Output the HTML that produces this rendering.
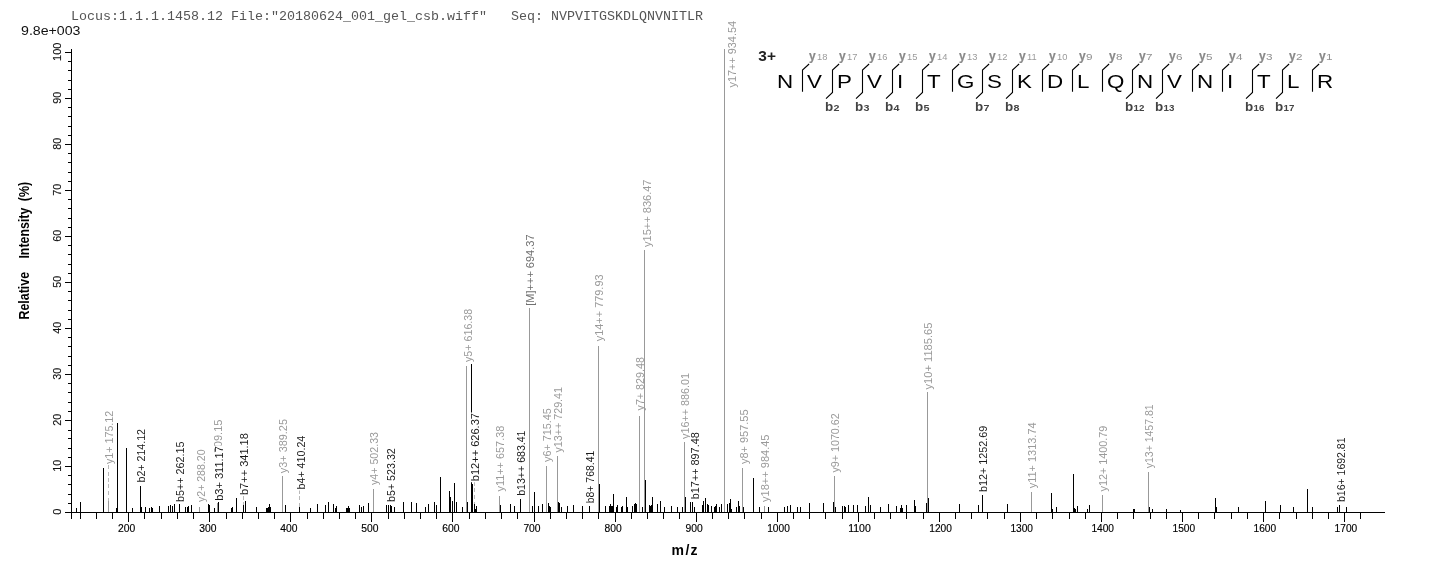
<!DOCTYPE html>
<html><head><meta charset="utf-8"><title>Spectrum</title>
<style>html,body{margin:0;padding:0;background:#fff;}svg{display:block;opacity:0.999;will-change:transform;}text{font-family:"Liberation Sans",sans-serif;}</style>
</head><body>
<svg width="1436" height="572" viewBox="0 0 1436 572">
<rect x="0" y="0" width="1436" height="572" fill="#fff"/>
<text x="71" y="20" font-size="12.2" style="font-family:'Liberation Mono',monospace;white-space:pre" xml:space="preserve" fill="#555" textLength="632" lengthAdjust="spacingAndGlyphs">Locus:1.1.1.1458.12 File:&quot;20180624_001_gel_csb.wiff&quot;   Seq: NVPVITGSKDLQNVNITLR</text>
<text x="21" y="34.6" font-size="12" fill="#111" textLength="59.5" lengthAdjust="spacingAndGlyphs">9.8e+003</text>
<g shape-rendering="crispEdges">
<rect x="71" y="49" width="1" height="470" fill="#000"/>
<rect x="65" y="512" width="1320" height="1" fill="#000"/>
<rect x="65" y="512" width="6" height="1" fill="#000"/>
<rect x="68" y="503" width="3" height="1" fill="#000"/>
<rect x="68" y="494" width="3" height="1" fill="#000"/>
<rect x="68" y="484" width="3" height="1" fill="#000"/>
<rect x="68" y="475" width="3" height="1" fill="#000"/>
<rect x="65" y="466" width="6" height="1" fill="#000"/>
<rect x="68" y="457" width="3" height="1" fill="#000"/>
<rect x="68" y="448" width="3" height="1" fill="#000"/>
<rect x="68" y="438" width="3" height="1" fill="#000"/>
<rect x="68" y="430" width="3" height="1" fill="#000"/>
<rect x="65" y="420" width="6" height="1" fill="#000"/>
<rect x="68" y="411" width="3" height="1" fill="#000"/>
<rect x="68" y="402" width="3" height="1" fill="#000"/>
<rect x="68" y="392" width="3" height="1" fill="#000"/>
<rect x="68" y="383" width="3" height="1" fill="#000"/>
<rect x="65" y="374" width="6" height="1" fill="#000"/>
<rect x="68" y="365" width="3" height="1" fill="#000"/>
<rect x="68" y="356" width="3" height="1" fill="#000"/>
<rect x="68" y="346" width="3" height="1" fill="#000"/>
<rect x="68" y="337" width="3" height="1" fill="#000"/>
<rect x="65" y="328" width="6" height="1" fill="#000"/>
<rect x="68" y="319" width="3" height="1" fill="#000"/>
<rect x="68" y="310" width="3" height="1" fill="#000"/>
<rect x="68" y="300" width="3" height="1" fill="#000"/>
<rect x="68" y="291" width="3" height="1" fill="#000"/>
<rect x="65" y="282" width="6" height="1" fill="#000"/>
<rect x="68" y="273" width="3" height="1" fill="#000"/>
<rect x="68" y="264" width="3" height="1" fill="#000"/>
<rect x="68" y="254" width="3" height="1" fill="#000"/>
<rect x="68" y="245" width="3" height="1" fill="#000"/>
<rect x="65" y="236" width="6" height="1" fill="#000"/>
<rect x="68" y="227" width="3" height="1" fill="#000"/>
<rect x="68" y="218" width="3" height="1" fill="#000"/>
<rect x="68" y="208" width="3" height="1" fill="#000"/>
<rect x="68" y="199" width="3" height="1" fill="#000"/>
<rect x="65" y="190" width="6" height="1" fill="#000"/>
<rect x="68" y="181" width="3" height="1" fill="#000"/>
<rect x="68" y="172" width="3" height="1" fill="#000"/>
<rect x="68" y="162" width="3" height="1" fill="#000"/>
<rect x="68" y="153" width="3" height="1" fill="#000"/>
<rect x="65" y="144" width="6" height="1" fill="#000"/>
<rect x="68" y="135" width="3" height="1" fill="#000"/>
<rect x="68" y="126" width="3" height="1" fill="#000"/>
<rect x="68" y="116" width="3" height="1" fill="#000"/>
<rect x="68" y="107" width="3" height="1" fill="#000"/>
<rect x="65" y="98" width="6" height="1" fill="#000"/>
<rect x="68" y="89" width="3" height="1" fill="#000"/>
<rect x="68" y="80" width="3" height="1" fill="#000"/>
<rect x="68" y="70" width="3" height="1" fill="#000"/>
<rect x="68" y="61" width="3" height="1" fill="#000"/>
<rect x="65" y="52" width="6" height="1" fill="#000"/>
<rect x="80" y="512" width="1" height="7" fill="#000"/>
<rect x="96" y="512" width="1" height="7" fill="#000"/>
<rect x="112" y="512" width="1" height="7" fill="#000"/>
<rect x="128" y="512" width="1" height="10" fill="#000"/>
<rect x="144" y="512" width="1" height="7" fill="#000"/>
<rect x="161" y="512" width="1" height="7" fill="#000"/>
<rect x="177" y="512" width="1" height="7" fill="#000"/>
<rect x="193" y="512" width="1" height="7" fill="#000"/>
<rect x="209" y="512" width="1" height="10" fill="#000"/>
<rect x="226" y="512" width="1" height="7" fill="#000"/>
<rect x="242" y="512" width="1" height="7" fill="#000"/>
<rect x="258" y="512" width="1" height="7" fill="#000"/>
<rect x="274" y="512" width="1" height="7" fill="#000"/>
<rect x="290" y="512" width="1" height="10" fill="#000"/>
<rect x="307" y="512" width="1" height="7" fill="#000"/>
<rect x="323" y="512" width="1" height="7" fill="#000"/>
<rect x="339" y="512" width="1" height="7" fill="#000"/>
<rect x="355" y="512" width="1" height="7" fill="#000"/>
<rect x="371" y="512" width="1" height="10" fill="#000"/>
<rect x="388" y="512" width="1" height="7" fill="#000"/>
<rect x="404" y="512" width="1" height="7" fill="#000"/>
<rect x="420" y="512" width="1" height="7" fill="#000"/>
<rect x="436" y="512" width="1" height="7" fill="#000"/>
<rect x="452" y="512" width="1" height="10" fill="#000"/>
<rect x="469" y="512" width="1" height="7" fill="#000"/>
<rect x="485" y="512" width="1" height="7" fill="#000"/>
<rect x="501" y="512" width="1" height="7" fill="#000"/>
<rect x="517" y="512" width="1" height="7" fill="#000"/>
<rect x="534" y="512" width="1" height="10" fill="#000"/>
<rect x="550" y="512" width="1" height="7" fill="#000"/>
<rect x="566" y="512" width="1" height="7" fill="#000"/>
<rect x="582" y="512" width="1" height="7" fill="#000"/>
<rect x="598" y="512" width="1" height="7" fill="#000"/>
<rect x="615" y="512" width="1" height="10" fill="#000"/>
<rect x="631" y="512" width="1" height="7" fill="#000"/>
<rect x="647" y="512" width="1" height="7" fill="#000"/>
<rect x="663" y="512" width="1" height="7" fill="#000"/>
<rect x="679" y="512" width="1" height="7" fill="#000"/>
<rect x="696" y="512" width="1" height="10" fill="#000"/>
<rect x="712" y="512" width="1" height="7" fill="#000"/>
<rect x="728" y="512" width="1" height="7" fill="#000"/>
<rect x="744" y="512" width="1" height="7" fill="#000"/>
<rect x="761" y="512" width="1" height="7" fill="#000"/>
<rect x="777" y="512" width="1" height="10" fill="#000"/>
<rect x="793" y="512" width="1" height="7" fill="#000"/>
<rect x="809" y="512" width="1" height="7" fill="#000"/>
<rect x="825" y="512" width="1" height="7" fill="#000"/>
<rect x="842" y="512" width="1" height="7" fill="#000"/>
<rect x="858" y="512" width="1" height="10" fill="#000"/>
<rect x="874" y="512" width="1" height="7" fill="#000"/>
<rect x="890" y="512" width="1" height="7" fill="#000"/>
<rect x="906" y="512" width="1" height="7" fill="#000"/>
<rect x="923" y="512" width="1" height="7" fill="#000"/>
<rect x="939" y="512" width="1" height="10" fill="#000"/>
<rect x="955" y="512" width="1" height="7" fill="#000"/>
<rect x="971" y="512" width="1" height="7" fill="#000"/>
<rect x="987" y="512" width="1" height="7" fill="#000"/>
<rect x="1004" y="512" width="1" height="7" fill="#000"/>
<rect x="1020" y="512" width="1" height="10" fill="#000"/>
<rect x="1036" y="512" width="1" height="7" fill="#000"/>
<rect x="1052" y="512" width="1" height="7" fill="#000"/>
<rect x="1069" y="512" width="1" height="7" fill="#000"/>
<rect x="1085" y="512" width="1" height="7" fill="#000"/>
<rect x="1101" y="512" width="1" height="10" fill="#000"/>
<rect x="1117" y="512" width="1" height="7" fill="#000"/>
<rect x="1133" y="512" width="1" height="7" fill="#000"/>
<rect x="1150" y="512" width="1" height="7" fill="#000"/>
<rect x="1166" y="512" width="1" height="7" fill="#000"/>
<rect x="1182" y="512" width="1" height="10" fill="#000"/>
<rect x="1198" y="512" width="1" height="7" fill="#000"/>
<rect x="1214" y="512" width="1" height="7" fill="#000"/>
<rect x="1231" y="512" width="1" height="7" fill="#000"/>
<rect x="1247" y="512" width="1" height="7" fill="#000"/>
<rect x="1263" y="512" width="1" height="10" fill="#000"/>
<rect x="1279" y="512" width="1" height="7" fill="#000"/>
<rect x="1296" y="512" width="1" height="7" fill="#000"/>
<rect x="1312" y="512" width="1" height="7" fill="#000"/>
<rect x="1328" y="512" width="1" height="7" fill="#000"/>
<rect x="1344" y="512" width="1" height="10" fill="#000"/>
<rect x="1360" y="512" width="1" height="7" fill="#000"/>
<rect x="76" y="508" width="1" height="4" fill="#000"/>
<rect x="80" y="502" width="1" height="10" fill="#000"/>
<rect x="103" y="468" width="1" height="44" fill="#000"/>
<rect x="108" y="500" width="1" height="12" fill="#999999"/>
<rect x="116" y="508" width="1" height="4" fill="#000"/>
<rect x="117" y="423" width="1" height="89" fill="#000"/>
<rect x="126" y="448" width="1" height="64" fill="#000"/>
<rect x="132" y="508" width="1" height="4" fill="#000"/>
<rect x="140" y="486" width="1" height="26" fill="#000"/>
<rect x="141" y="507" width="1" height="5" fill="#000"/>
<rect x="145" y="507" width="1" height="5" fill="#000"/>
<rect x="149" y="508" width="1" height="4" fill="#000"/>
<rect x="151" y="507" width="1" height="5" fill="#000"/>
<rect x="152" y="508" width="1" height="4" fill="#000"/>
<rect x="159" y="506" width="1" height="6" fill="#000"/>
<rect x="168" y="506" width="1" height="6" fill="#000"/>
<rect x="170" y="505" width="1" height="7" fill="#000"/>
<rect x="172" y="506" width="1" height="6" fill="#000"/>
<rect x="174" y="504" width="1" height="8" fill="#000"/>
<rect x="179" y="504" width="1" height="8" fill="#000"/>
<rect x="185" y="507" width="1" height="5" fill="#000"/>
<rect x="187" y="507" width="1" height="5" fill="#000"/>
<rect x="188" y="506" width="1" height="6" fill="#000"/>
<rect x="191" y="505" width="1" height="7" fill="#000"/>
<rect x="199" y="507" width="1" height="5" fill="#999999"/>
<rect x="208" y="504" width="1" height="8" fill="#000"/>
<rect x="209" y="505" width="1" height="7" fill="#000"/>
<rect x="214" y="508" width="1" height="4" fill="#000"/>
<rect x="217" y="503" width="1" height="9" fill="#999999"/>
<rect x="218" y="502" width="1" height="10" fill="#000"/>
<rect x="231" y="508" width="1" height="4" fill="#000"/>
<rect x="232" y="507" width="1" height="5" fill="#000"/>
<rect x="236" y="498" width="1" height="14" fill="#000"/>
<rect x="243" y="505" width="1" height="7" fill="#000"/>
<rect x="245" y="501" width="1" height="11" fill="#000"/>
<rect x="256" y="507" width="1" height="5" fill="#000"/>
<rect x="266" y="508" width="1" height="4" fill="#000"/>
<rect x="267" y="508" width="1" height="4" fill="#000"/>
<rect x="268" y="507" width="1" height="5" fill="#000"/>
<rect x="269" y="504" width="1" height="8" fill="#000"/>
<rect x="270" y="507" width="1" height="5" fill="#000"/>
<rect x="282" y="476" width="1" height="36" fill="#999999"/>
<rect x="285" y="505" width="1" height="7" fill="#000"/>
<rect x="299" y="507" width="1" height="5" fill="#000"/>
<rect x="310" y="508" width="1" height="4" fill="#000"/>
<rect x="317" y="504" width="1" height="8" fill="#000"/>
<rect x="325" y="505" width="1" height="7" fill="#000"/>
<rect x="328" y="502" width="1" height="10" fill="#000"/>
<rect x="333" y="504" width="1" height="8" fill="#000"/>
<rect x="335" y="508" width="1" height="4" fill="#000"/>
<rect x="336" y="506" width="1" height="6" fill="#000"/>
<rect x="346" y="508" width="1" height="4" fill="#000"/>
<rect x="347" y="508" width="1" height="4" fill="#000"/>
<rect x="348" y="506" width="1" height="6" fill="#000"/>
<rect x="349" y="508" width="1" height="4" fill="#000"/>
<rect x="359" y="505" width="1" height="7" fill="#000"/>
<rect x="361" y="507" width="1" height="5" fill="#000"/>
<rect x="363" y="506" width="1" height="6" fill="#000"/>
<rect x="368" y="503" width="1" height="9" fill="#000"/>
<rect x="373" y="489" width="1" height="23" fill="#999999"/>
<rect x="386" y="505" width="1" height="7" fill="#000"/>
<rect x="388" y="505" width="1" height="7" fill="#000"/>
<rect x="390" y="505" width="1" height="7" fill="#000"/>
<rect x="391" y="506" width="1" height="6" fill="#000"/>
<rect x="394" y="507" width="1" height="5" fill="#000"/>
<rect x="403" y="502" width="1" height="10" fill="#000"/>
<rect x="411" y="502" width="1" height="10" fill="#000"/>
<rect x="416" y="503" width="1" height="9" fill="#000"/>
<rect x="425" y="507" width="1" height="5" fill="#000"/>
<rect x="428" y="504" width="1" height="8" fill="#000"/>
<rect x="434" y="502" width="1" height="10" fill="#000"/>
<rect x="436" y="505" width="1" height="7" fill="#000"/>
<rect x="440" y="477" width="1" height="35" fill="#000"/>
<rect x="449" y="491" width="1" height="21" fill="#000"/>
<rect x="450" y="497" width="1" height="15" fill="#000"/>
<rect x="452" y="501" width="1" height="11" fill="#000"/>
<rect x="454" y="483" width="1" height="29" fill="#000"/>
<rect x="456" y="502" width="1" height="10" fill="#000"/>
<rect x="462" y="507" width="1" height="5" fill="#000"/>
<rect x="466" y="366" width="1" height="146" fill="#999999"/>
<rect x="467" y="502" width="1" height="10" fill="#000"/>
<rect x="471" y="482" width="1" height="30" fill="#000"/>
<rect x="472" y="484" width="1" height="28" fill="#000"/>
<rect x="474" y="503" width="1" height="9" fill="#000"/>
<rect x="475" y="509" width="1" height="3" fill="#000"/>
<rect x="476" y="506" width="1" height="6" fill="#000"/>
<rect x="499" y="496" width="1" height="16" fill="#999999"/>
<rect x="500" y="505" width="1" height="7" fill="#000"/>
<rect x="510" y="504" width="1" height="8" fill="#000"/>
<rect x="514" y="506" width="1" height="6" fill="#000"/>
<rect x="520" y="499" width="1" height="13" fill="#000"/>
<rect x="529" y="308" width="1" height="204" fill="#999999"/>
<rect x="532" y="506" width="1" height="6" fill="#000"/>
<rect x="534" y="492" width="1" height="20" fill="#000"/>
<rect x="538" y="506" width="1" height="6" fill="#000"/>
<rect x="542" y="504" width="1" height="8" fill="#000"/>
<rect x="546" y="466" width="1" height="46" fill="#999999"/>
<rect x="548" y="503" width="1" height="9" fill="#000"/>
<rect x="549" y="506" width="1" height="6" fill="#000"/>
<rect x="550" y="507" width="1" height="5" fill="#000"/>
<rect x="557" y="456" width="1" height="56" fill="#999999"/>
<rect x="558" y="502" width="1" height="10" fill="#000"/>
<rect x="559" y="503" width="1" height="9" fill="#000"/>
<rect x="561" y="507" width="1" height="5" fill="#000"/>
<rect x="567" y="506" width="1" height="6" fill="#000"/>
<rect x="573" y="505" width="1" height="7" fill="#000"/>
<rect x="582" y="506" width="1" height="6" fill="#000"/>
<rect x="589" y="506" width="1" height="6" fill="#000"/>
<rect x="598" y="346" width="1" height="166" fill="#999999"/>
<rect x="599" y="484" width="1" height="28" fill="#000"/>
<rect x="605" y="506" width="1" height="6" fill="#000"/>
<rect x="609" y="506" width="1" height="6" fill="#000"/>
<rect x="610" y="504" width="1" height="8" fill="#000"/>
<rect x="611" y="506" width="1" height="6" fill="#000"/>
<rect x="612" y="506" width="1" height="6" fill="#000"/>
<rect x="613" y="494" width="1" height="18" fill="#000"/>
<rect x="616" y="507" width="1" height="5" fill="#000"/>
<rect x="617" y="505" width="1" height="7" fill="#000"/>
<rect x="621" y="507" width="1" height="5" fill="#000"/>
<rect x="622" y="506" width="1" height="6" fill="#000"/>
<rect x="626" y="497" width="1" height="15" fill="#000"/>
<rect x="627" y="507" width="1" height="5" fill="#000"/>
<rect x="632" y="506" width="1" height="6" fill="#000"/>
<rect x="634" y="504" width="1" height="8" fill="#000"/>
<rect x="635" y="503" width="1" height="9" fill="#000"/>
<rect x="636" y="504" width="1" height="8" fill="#000"/>
<rect x="639" y="416" width="1" height="96" fill="#999999"/>
<rect x="642" y="507" width="1" height="5" fill="#000"/>
<rect x="644" y="250" width="1" height="262" fill="#999999"/>
<rect x="645" y="480" width="1" height="32" fill="#000"/>
<rect x="649" y="505" width="1" height="7" fill="#000"/>
<rect x="650" y="506" width="1" height="6" fill="#000"/>
<rect x="651" y="505" width="1" height="7" fill="#000"/>
<rect x="652" y="497" width="1" height="15" fill="#000"/>
<rect x="657" y="504" width="1" height="8" fill="#000"/>
<rect x="660" y="501" width="1" height="11" fill="#000"/>
<rect x="664" y="507" width="1" height="5" fill="#000"/>
<rect x="671" y="506" width="1" height="6" fill="#000"/>
<rect x="677" y="507" width="1" height="5" fill="#000"/>
<rect x="682" y="507" width="1" height="5" fill="#000"/>
<rect x="684" y="442" width="1" height="70" fill="#999999"/>
<rect x="685" y="497" width="1" height="15" fill="#000"/>
<rect x="690" y="502" width="1" height="10" fill="#000"/>
<rect x="692" y="502" width="1" height="10" fill="#000"/>
<rect x="694" y="507" width="1" height="5" fill="#000"/>
<rect x="702" y="505" width="1" height="7" fill="#000"/>
<rect x="703" y="501" width="1" height="11" fill="#000"/>
<rect x="705" y="498" width="1" height="14" fill="#000"/>
<rect x="707" y="504" width="1" height="8" fill="#000"/>
<rect x="708" y="505" width="1" height="7" fill="#000"/>
<rect x="711" y="506" width="1" height="6" fill="#000"/>
<rect x="714" y="507" width="1" height="5" fill="#000"/>
<rect x="715" y="506" width="1" height="6" fill="#000"/>
<rect x="716" y="504" width="1" height="8" fill="#000"/>
<rect x="719" y="507" width="1" height="5" fill="#000"/>
<rect x="721" y="504" width="1" height="8" fill="#000"/>
<rect x="724" y="49" width="1" height="463" fill="#999999"/>
<rect x="727" y="504" width="1" height="8" fill="#000"/>
<rect x="729" y="503" width="1" height="9" fill="#000"/>
<rect x="730" y="499" width="1" height="13" fill="#000"/>
<rect x="731" y="509" width="1" height="3" fill="#000"/>
<rect x="736" y="507" width="1" height="5" fill="#000"/>
<rect x="738" y="501" width="1" height="11" fill="#000"/>
<rect x="739" y="506" width="1" height="6" fill="#000"/>
<rect x="742" y="468" width="1" height="44" fill="#999999"/>
<rect x="743" y="507" width="1" height="5" fill="#000"/>
<rect x="753" y="478" width="1" height="34" fill="#000"/>
<rect x="759" y="507" width="1" height="5" fill="#000"/>
<rect x="764" y="506" width="1" height="6" fill="#999999"/>
<rect x="768" y="507" width="1" height="5" fill="#000"/>
<rect x="784" y="507" width="1" height="5" fill="#000"/>
<rect x="787" y="506" width="1" height="6" fill="#000"/>
<rect x="790" y="505" width="1" height="7" fill="#000"/>
<rect x="797" y="507" width="1" height="5" fill="#000"/>
<rect x="800" y="507" width="1" height="5" fill="#000"/>
<rect x="809" y="503" width="1" height="9" fill="#000"/>
<rect x="823" y="503" width="1" height="9" fill="#000"/>
<rect x="833" y="502" width="1" height="10" fill="#000"/>
<rect x="834" y="476" width="1" height="36" fill="#999999"/>
<rect x="835" y="507" width="1" height="5" fill="#000"/>
<rect x="842" y="506" width="1" height="6" fill="#000"/>
<rect x="844" y="506" width="1" height="6" fill="#000"/>
<rect x="845" y="507" width="1" height="5" fill="#000"/>
<rect x="848" y="505" width="1" height="7" fill="#000"/>
<rect x="853" y="505" width="1" height="7" fill="#000"/>
<rect x="857" y="505" width="1" height="7" fill="#000"/>
<rect x="865" y="506" width="1" height="6" fill="#000"/>
<rect x="868" y="497" width="1" height="15" fill="#000"/>
<rect x="870" y="505" width="1" height="7" fill="#000"/>
<rect x="880" y="507" width="1" height="5" fill="#000"/>
<rect x="888" y="504" width="1" height="8" fill="#000"/>
<rect x="896" y="506" width="1" height="6" fill="#000"/>
<rect x="900" y="508" width="1" height="4" fill="#000"/>
<rect x="901" y="505" width="1" height="7" fill="#000"/>
<rect x="902" y="508" width="1" height="4" fill="#000"/>
<rect x="906" y="505" width="1" height="7" fill="#000"/>
<rect x="914" y="500" width="1" height="12" fill="#000"/>
<rect x="915" y="506" width="1" height="6" fill="#000"/>
<rect x="926" y="503" width="1" height="9" fill="#000"/>
<rect x="927" y="392" width="1" height="120" fill="#999999"/>
<rect x="928" y="498" width="1" height="14" fill="#000"/>
<rect x="959" y="504" width="1" height="8" fill="#000"/>
<rect x="978" y="505" width="1" height="7" fill="#000"/>
<rect x="982" y="495" width="1" height="17" fill="#000"/>
<rect x="1007" y="504" width="1" height="8" fill="#000"/>
<rect x="1031" y="492" width="1" height="20" fill="#999999"/>
<rect x="1051" y="493" width="1" height="19" fill="#000"/>
<rect x="1052" y="509" width="1" height="3" fill="#000"/>
<rect x="1056" y="507" width="1" height="5" fill="#000"/>
<rect x="1073" y="474" width="1" height="38" fill="#000"/>
<rect x="1074" y="508" width="1" height="4" fill="#000"/>
<rect x="1075" y="509" width="1" height="3" fill="#000"/>
<rect x="1077" y="506" width="1" height="6" fill="#000"/>
<rect x="1087" y="509" width="1" height="3" fill="#000"/>
<rect x="1089" y="505" width="1" height="7" fill="#000"/>
<rect x="1102" y="495" width="1" height="17" fill="#999999"/>
<rect x="1133" y="509" width="1" height="3" fill="#000"/>
<rect x="1134" y="509" width="1" height="3" fill="#000"/>
<rect x="1148" y="472" width="1" height="40" fill="#999999"/>
<rect x="1149" y="507" width="1" height="5" fill="#000"/>
<rect x="1152" y="509" width="1" height="3" fill="#000"/>
<rect x="1166" y="509" width="1" height="3" fill="#000"/>
<rect x="1180" y="510" width="1" height="2" fill="#000"/>
<rect x="1215" y="498" width="1" height="14" fill="#000"/>
<rect x="1216" y="507" width="1" height="5" fill="#000"/>
<rect x="1238" y="507" width="1" height="5" fill="#000"/>
<rect x="1265" y="501" width="1" height="11" fill="#000"/>
<rect x="1280" y="505" width="1" height="7" fill="#000"/>
<rect x="1293" y="507" width="1" height="5" fill="#000"/>
<rect x="1307" y="489" width="1" height="23" fill="#000"/>
<rect x="1312" y="507" width="1" height="5" fill="#000"/>
<rect x="1337" y="507" width="1" height="5" fill="#000"/>
<rect x="1339" y="505" width="1" height="7" fill="#000"/>
<rect x="1346" y="507" width="1" height="5" fill="#000"/>
<rect x="471" y="364" width="1" height="118" fill="#000"/>
<rect x="108" y="465" width="1" height="4" fill="#b8b8b8"/>
<rect x="108" y="472" width="1" height="4" fill="#b8b8b8"/>
<rect x="108" y="478" width="1" height="4" fill="#b8b8b8"/>
<rect x="108" y="484" width="1" height="4" fill="#b8b8b8"/>
<rect x="108" y="491" width="1" height="4" fill="#b8b8b8"/>
<rect x="108" y="498" width="1" height="2.5" fill="#b8b8b8"/>
<rect x="243" y="496" width="1" height="4" fill="#b8b8b8"/>
<rect x="243" y="502" width="1" height="2.5" fill="#b8b8b8"/>
<rect x="299" y="490" width="1" height="4" fill="#b8b8b8"/>
<rect x="299" y="496" width="1" height="4" fill="#b8b8b8"/>
<rect x="299" y="503" width="1" height="4" fill="#b8b8b8"/>
<rect x="474" y="482" width="1" height="4" fill="#b8b8b8"/>
<rect x="474" y="488" width="1" height="4" fill="#b8b8b8"/>
<rect x="474" y="495" width="1" height="4" fill="#b8b8b8"/>
<rect x="474" y="502" width="1" height="1.5" fill="#b8b8b8"/>
</g>
<text x="118.1" y="532" font-size="10" fill="#000" stroke="#000" stroke-width="0.15" textLength="17.2" lengthAdjust="spacingAndGlyphs">200</text>
<text x="199.2" y="532" font-size="10" fill="#000" stroke="#000" stroke-width="0.15" textLength="17.2" lengthAdjust="spacingAndGlyphs">300</text>
<text x="280.2" y="532" font-size="10" fill="#000" stroke="#000" stroke-width="0.15" textLength="17.2" lengthAdjust="spacingAndGlyphs">400</text>
<text x="361.3" y="532" font-size="10" fill="#000" stroke="#000" stroke-width="0.15" textLength="17.2" lengthAdjust="spacingAndGlyphs">500</text>
<text x="442.3" y="532" font-size="10" fill="#000" stroke="#000" stroke-width="0.15" textLength="17.2" lengthAdjust="spacingAndGlyphs">600</text>
<text x="523.4" y="532" font-size="10" fill="#000" stroke="#000" stroke-width="0.15" textLength="17.2" lengthAdjust="spacingAndGlyphs">700</text>
<text x="604.5" y="532" font-size="10" fill="#000" stroke="#000" stroke-width="0.15" textLength="17.2" lengthAdjust="spacingAndGlyphs">800</text>
<text x="685.5" y="532" font-size="10" fill="#000" stroke="#000" stroke-width="0.15" textLength="17.2" lengthAdjust="spacingAndGlyphs">900</text>
<text x="767.2" y="532" font-size="10" fill="#000" stroke="#000" stroke-width="0.15" textLength="22.6" lengthAdjust="spacingAndGlyphs">1000</text>
<text x="848.2" y="532" font-size="10" fill="#000" stroke="#000" stroke-width="0.15" textLength="22.6" lengthAdjust="spacingAndGlyphs">1100</text>
<text x="929.3" y="532" font-size="10" fill="#000" stroke="#000" stroke-width="0.15" textLength="22.6" lengthAdjust="spacingAndGlyphs">1200</text>
<text x="1010.4" y="532" font-size="10" fill="#000" stroke="#000" stroke-width="0.15" textLength="22.6" lengthAdjust="spacingAndGlyphs">1300</text>
<text x="1091.4" y="532" font-size="10" fill="#000" stroke="#000" stroke-width="0.15" textLength="22.6" lengthAdjust="spacingAndGlyphs">1400</text>
<text x="1172.5" y="532" font-size="10" fill="#000" stroke="#000" stroke-width="0.15" textLength="22.6" lengthAdjust="spacingAndGlyphs">1500</text>
<text x="1253.5" y="532" font-size="10" fill="#000" stroke="#000" stroke-width="0.15" textLength="22.6" lengthAdjust="spacingAndGlyphs">1600</text>
<text x="1334.6" y="532" font-size="10" fill="#000" stroke="#000" stroke-width="0.15" textLength="22.6" lengthAdjust="spacingAndGlyphs">1700</text>
<text transform="translate(61.2,514.8) rotate(-90) scale(1,1.05)" font-size="11" fill="#111" stroke="#111" stroke-width="0.12" textLength="6.2" lengthAdjust="spacingAndGlyphs">0</text>
<text transform="translate(61.2,471.7) rotate(-90) scale(1,1.05)" font-size="11" fill="#111" stroke="#111" stroke-width="0.12" textLength="12.0" lengthAdjust="spacingAndGlyphs">10</text>
<text transform="translate(61.2,425.7) rotate(-90) scale(1,1.05)" font-size="11" fill="#111" stroke="#111" stroke-width="0.12" textLength="12.0" lengthAdjust="spacingAndGlyphs">20</text>
<text transform="translate(61.2,379.7) rotate(-90) scale(1,1.05)" font-size="11" fill="#111" stroke="#111" stroke-width="0.12" textLength="12.0" lengthAdjust="spacingAndGlyphs">30</text>
<text transform="translate(61.2,333.7) rotate(-90) scale(1,1.05)" font-size="11" fill="#111" stroke="#111" stroke-width="0.12" textLength="12.0" lengthAdjust="spacingAndGlyphs">40</text>
<text transform="translate(61.2,287.7) rotate(-90) scale(1,1.05)" font-size="11" fill="#111" stroke="#111" stroke-width="0.12" textLength="12.0" lengthAdjust="spacingAndGlyphs">50</text>
<text transform="translate(61.2,241.7) rotate(-90) scale(1,1.05)" font-size="11" fill="#111" stroke="#111" stroke-width="0.12" textLength="12.0" lengthAdjust="spacingAndGlyphs">60</text>
<text transform="translate(61.2,195.7) rotate(-90) scale(1,1.05)" font-size="11" fill="#111" stroke="#111" stroke-width="0.12" textLength="12.0" lengthAdjust="spacingAndGlyphs">70</text>
<text transform="translate(61.2,149.7) rotate(-90) scale(1,1.05)" font-size="11" fill="#111" stroke="#111" stroke-width="0.12" textLength="12.0" lengthAdjust="spacingAndGlyphs">80</text>
<text transform="translate(61.2,103.7) rotate(-90) scale(1,1.05)" font-size="11" fill="#111" stroke="#111" stroke-width="0.12" textLength="12.0" lengthAdjust="spacingAndGlyphs">90</text>
<text transform="translate(61.2,60.9) rotate(-90) scale(1,1.05)" font-size="11" fill="#111" stroke="#111" stroke-width="0.12" textLength="18.4" lengthAdjust="spacingAndGlyphs">100</text>
<text transform="translate(29,319.5) rotate(-90) scale(1,1.17)" font-size="12.4" font-weight="bold" fill="#000">Relative</text>
<text transform="translate(29,258.6) rotate(-90) scale(1,1.17)" font-size="12.4" font-weight="bold" fill="#000">Intensity</text>
<text transform="translate(29,201.2) rotate(-90) scale(1,1.17)" font-size="12.4" font-weight="bold" fill="#000">(%)</text>
<text x="671.6" y="554.6" font-size="14" font-weight="bold" fill="#000">m</text>
<text x="685.6" y="554.6" font-size="14" font-weight="bold" fill="#000" letter-spacing="0.9">/z</text>
<text transform="translate(113.20,464.00) rotate(-90) scale(1,1.07)" font-size="11" fill="#9a9a9a" textLength="53.2" lengthAdjust="spacingAndGlyphs">y1+ 175.12</text>
<text transform="translate(221.90,453.30) rotate(-90) scale(1,1.07)" font-size="11" fill="#9a9a9a" textLength="33.7" lengthAdjust="spacingAndGlyphs">309.15</text>
<text transform="translate(204.70,502.00) rotate(-90) scale(1,1.07)" font-size="11" fill="#9a9a9a" textLength="52.5" lengthAdjust="spacingAndGlyphs">y2+ 288.20</text>
<text transform="translate(287.40,473.25) rotate(-90) scale(1,1.07)" font-size="11" fill="#9a9a9a" textLength="54.2" lengthAdjust="spacingAndGlyphs">y3+ 389.25</text>
<text transform="translate(377.90,485.00) rotate(-90) scale(1,1.07)" font-size="11" fill="#9a9a9a" textLength="53.0" lengthAdjust="spacingAndGlyphs">y4+ 502.33</text>
<text transform="translate(471.60,362.00) rotate(-90) scale(1,1.07)" font-size="11" fill="#9a9a9a" textLength="53.2" lengthAdjust="spacingAndGlyphs">y5+ 616.38</text>
<text transform="translate(504.30,491.50) rotate(-90) scale(1,1.07)" font-size="11" fill="#9a9a9a" textLength="65.8" lengthAdjust="spacingAndGlyphs">y11++ 657.38</text>
<text transform="translate(534.10,305.70) rotate(-90) scale(1,1.07)" font-size="11" fill="#707070" textLength="71.2" lengthAdjust="spacingAndGlyphs">[M]+++ 694.37</text>
<text transform="translate(550.60,462.00) rotate(-90) scale(1,1.07)" font-size="11" fill="#9a9a9a" textLength="53.8" lengthAdjust="spacingAndGlyphs">y6+ 715.45</text>
<text transform="translate(562.20,452.50) rotate(-90) scale(1,1.07)" font-size="11" fill="#9a9a9a" textLength="65.5" lengthAdjust="spacingAndGlyphs">y13++ 729.41</text>
<text transform="translate(602.60,341.25) rotate(-90) scale(1,1.07)" font-size="11" fill="#9a9a9a" textLength="66.8" lengthAdjust="spacingAndGlyphs">y14++ 779.93</text>
<text transform="translate(644.10,410.50) rotate(-90) scale(1,1.07)" font-size="11" fill="#9a9a9a" textLength="53.5" lengthAdjust="spacingAndGlyphs">y7+ 829.48</text>
<text transform="translate(650.60,247.00) rotate(-90) scale(1,1.07)" font-size="11" fill="#9a9a9a" textLength="67.5" lengthAdjust="spacingAndGlyphs">y15++ 836.47</text>
<text transform="translate(688.60,439.00) rotate(-90) scale(1,1.07)" font-size="11" fill="#9a9a9a" textLength="66.0" lengthAdjust="spacingAndGlyphs">y16++ 886.01</text>
<text transform="translate(736.10,87.40) rotate(-90) scale(1,1.07)" font-size="11" fill="#9a9a9a" textLength="66.4" lengthAdjust="spacingAndGlyphs">y17++ 934.54</text>
<text transform="translate(748.20,464.00) rotate(-90) scale(1,1.07)" font-size="11" fill="#9a9a9a" textLength="54.5" lengthAdjust="spacingAndGlyphs">y8+ 957.55</text>
<text transform="translate(769.40,502.00) rotate(-90) scale(1,1.07)" font-size="11" fill="#9a9a9a" textLength="67.5" lengthAdjust="spacingAndGlyphs">y18++ 984.45</text>
<text transform="translate(839.20,472.50) rotate(-90) scale(1,1.07)" font-size="11" fill="#9a9a9a" textLength="59.2" lengthAdjust="spacingAndGlyphs">y9+ 1070.62</text>
<text transform="translate(932.20,389.50) rotate(-90) scale(1,1.07)" font-size="11" fill="#9a9a9a" textLength="67.0" lengthAdjust="spacingAndGlyphs">y10+ 1185.65</text>
<text transform="translate(1036.00,488.25) rotate(-90) scale(1,1.07)" font-size="11" fill="#9a9a9a" textLength="65.8" lengthAdjust="spacingAndGlyphs">y11+ 1313.74</text>
<text transform="translate(1106.90,491.50) rotate(-90) scale(1,1.07)" font-size="11" fill="#9a9a9a" textLength="65.8" lengthAdjust="spacingAndGlyphs">y12+ 1400.79</text>
<text transform="translate(1153.20,468.25) rotate(-90) scale(1,1.07)" font-size="11" fill="#9a9a9a" textLength="63.8" lengthAdjust="spacingAndGlyphs">y13+ 1457.81</text>
<rect x="136.1" y="428.5" width="11.4" height="55" fill="#fff"/>
<text transform="translate(145.10,482.50) rotate(-90) scale(1,1.07)" font-size="11" fill="#1a1a1a" textLength="53.5" lengthAdjust="spacingAndGlyphs">b2+ 214.12</text>
<rect x="175.75" y="441" width="10.75" height="62" fill="#fff"/>
<text transform="translate(184.10,502.00) rotate(-90) scale(1,1.07)" font-size="11" fill="#1a1a1a" textLength="60.5" lengthAdjust="spacingAndGlyphs">b5++ 262.15</text>
<rect x="215" y="445.6" width="10.5" height="56.15" fill="#fff"/>
<text transform="translate(223.10,500.75) rotate(-90) scale(1,1.07)" font-size="11" fill="#1a1a1a" textLength="54.6" lengthAdjust="spacingAndGlyphs">b3+ 311.17</text>
<rect x="239.5" y="432.75" width="10.75" height="63.25" fill="#fff"/>
<text transform="translate(247.85,495.00) rotate(-90) scale(1,1.07)" font-size="11" fill="#1a1a1a" textLength="61.8" lengthAdjust="spacingAndGlyphs">b7++ 341.18</text>
<rect x="296.25" y="435.25" width="10.75" height="55.25" fill="#fff"/>
<text transform="translate(304.60,489.50) rotate(-90) scale(1,1.07)" font-size="11" fill="#1a1a1a" textLength="53.8" lengthAdjust="spacingAndGlyphs">b4+ 410.24</text>
<rect x="385.75" y="447.75" width="11.25" height="55.25" fill="#fff"/>
<text transform="translate(394.60,502.00) rotate(-90) scale(1,1.07)" font-size="11" fill="#1a1a1a" textLength="53.8" lengthAdjust="spacingAndGlyphs">b5+ 523.32</text>
<rect x="470.75" y="412.5" width="10.75" height="69.75" fill="#fff"/>
<text transform="translate(479.10,481.25) rotate(-90) scale(1,1.07)" font-size="11" fill="#1a1a1a" textLength="68.2" lengthAdjust="spacingAndGlyphs">b12++ 626.37</text>
<rect x="516.5" y="430" width="11.1" height="66.75" fill="#fff"/>
<text transform="translate(525.20,495.75) rotate(-90) scale(1,1.07)" font-size="11" fill="#1a1a1a" textLength="65.2" lengthAdjust="spacingAndGlyphs">b13++ 683.41</text>
<rect x="585" y="450.25" width="11" height="54" fill="#fff"/>
<text transform="translate(593.60,503.25) rotate(-90) scale(1,1.07)" font-size="11" fill="#1a1a1a" textLength="52.5" lengthAdjust="spacingAndGlyphs">b8+ 768.41</text>
<rect x="690" y="431.8" width="11.2" height="68.4" fill="#fff"/>
<text transform="translate(698.80,499.20) rotate(-90) scale(1,1.07)" font-size="11" fill="#1a1a1a" textLength="66.9" lengthAdjust="spacingAndGlyphs">b17++ 897.48</text>
<rect x="978.3" y="425.25" width="10.9" height="67.75" fill="#fff"/>
<text transform="translate(986.80,492.00) rotate(-90) scale(1,1.07)" font-size="11" fill="#1a1a1a" textLength="66.2" lengthAdjust="spacingAndGlyphs">b12+ 1252.69</text>
<rect x="1335.75" y="437" width="11.25" height="66" fill="#fff"/>
<text transform="translate(1344.60,502.00) rotate(-90) scale(1,1.07)" font-size="11" fill="#1a1a1a" textLength="64.5" lengthAdjust="spacingAndGlyphs">b16+ 1692.81</text>
<text transform="translate(777.0,87.7) scale(1.165,1)" font-size="19.2" fill="#000">N</text>
<text transform="translate(807.0,87.7) scale(1.165,1)" font-size="19.2" fill="#000">V</text>
<text transform="translate(837.0,87.7) scale(1.165,1)" font-size="19.2" fill="#000">P</text>
<text transform="translate(867.0,87.7) scale(1.165,1)" font-size="19.2" fill="#000">V</text>
<text transform="translate(897.0,87.7) scale(1.165,1)" font-size="19.2" fill="#000">I</text>
<text transform="translate(927.0,87.7) scale(1.165,1)" font-size="19.2" fill="#000">T</text>
<text transform="translate(957.0,87.7) scale(1.165,1)" font-size="19.2" fill="#000">G</text>
<text transform="translate(987.0,87.7) scale(1.165,1)" font-size="19.2" fill="#000">S</text>
<text transform="translate(1017.0,87.7) scale(1.165,1)" font-size="19.2" fill="#000">K</text>
<text transform="translate(1047.0,87.7) scale(1.165,1)" font-size="19.2" fill="#000">D</text>
<text transform="translate(1077.0,87.7) scale(1.165,1)" font-size="19.2" fill="#000">L</text>
<text transform="translate(1107.0,87.7) scale(1.165,1)" font-size="19.2" fill="#000">Q</text>
<text transform="translate(1137.0,87.7) scale(1.165,1)" font-size="19.2" fill="#000">N</text>
<text transform="translate(1167.0,87.7) scale(1.165,1)" font-size="19.2" fill="#000">V</text>
<text transform="translate(1197.0,87.7) scale(1.165,1)" font-size="19.2" fill="#000">N</text>
<text transform="translate(1227.0,87.7) scale(1.165,1)" font-size="19.2" fill="#000">I</text>
<text transform="translate(1257.0,87.7) scale(1.165,1)" font-size="19.2" fill="#000">T</text>
<text transform="translate(1287.0,87.7) scale(1.165,1)" font-size="19.2" fill="#000">L</text>
<text transform="translate(1317.0,87.7) scale(1.165,1)" font-size="19.2" fill="#000">R</text>
<text x="758.3" y="61.2" font-size="14.6" font-weight="bold" fill="#222" textLength="17.6" lengthAdjust="spacingAndGlyphs">3+</text>
<path d="M809.1,64 L802.5,70 L802.5,91.7" fill="none" stroke="#000" stroke-width="1.1" stroke-linejoin="miter"/>
<text x="809.0" y="59.7" font-size="12" font-weight="bold" fill="#8a8a8a" stroke="#8a8a8a" stroke-width="0.2">y</text>
<text transform="translate(817.1,59.9) scale(1.1,1)" font-size="8.5" fill="#9a9a9a">18</text>
<path d="M839.1,64 L832.5,70 L832.5,92.5 L826.0,98.7" fill="none" stroke="#000" stroke-width="1.1" stroke-linejoin="miter"/>
<text x="839.0" y="59.7" font-size="12" font-weight="bold" fill="#8a8a8a" stroke="#8a8a8a" stroke-width="0.2">y</text>
<text transform="translate(847.1,59.9) scale(1.1,1)" font-size="8.5" fill="#9a9a9a">17</text>
<text transform="translate(824.9,110.7) scale(1.12,1)" font-size="12" font-weight="bold" fill="#444">b</text>
<text transform="translate(833.5,110.7) scale(1.28,1)" font-size="8.4" font-weight="bold" fill="#444">2</text>
<path d="M869.1,64 L862.5,70 L862.5,92.5 L856.0,98.7" fill="none" stroke="#000" stroke-width="1.1" stroke-linejoin="miter"/>
<text x="869.0" y="59.7" font-size="12" font-weight="bold" fill="#8a8a8a" stroke="#8a8a8a" stroke-width="0.2">y</text>
<text transform="translate(877.1,59.9) scale(1.1,1)" font-size="8.5" fill="#9a9a9a">16</text>
<text transform="translate(854.9,110.7) scale(1.12,1)" font-size="12" font-weight="bold" fill="#444">b</text>
<text transform="translate(863.5,110.7) scale(1.28,1)" font-size="8.4" font-weight="bold" fill="#444">3</text>
<path d="M899.1,64 L892.5,70 L892.5,92.5 L886.0,98.7" fill="none" stroke="#000" stroke-width="1.1" stroke-linejoin="miter"/>
<text x="899.0" y="59.7" font-size="12" font-weight="bold" fill="#8a8a8a" stroke="#8a8a8a" stroke-width="0.2">y</text>
<text transform="translate(907.1,59.9) scale(1.1,1)" font-size="8.5" fill="#9a9a9a">15</text>
<text transform="translate(884.9,110.7) scale(1.12,1)" font-size="12" font-weight="bold" fill="#444">b</text>
<text transform="translate(893.5,110.7) scale(1.28,1)" font-size="8.4" font-weight="bold" fill="#444">4</text>
<path d="M929.1,64 L922.5,70 L922.5,92.5 L916.0,98.7" fill="none" stroke="#000" stroke-width="1.1" stroke-linejoin="miter"/>
<text x="929.0" y="59.7" font-size="12" font-weight="bold" fill="#8a8a8a" stroke="#8a8a8a" stroke-width="0.2">y</text>
<text transform="translate(937.1,59.9) scale(1.1,1)" font-size="8.5" fill="#9a9a9a">14</text>
<text transform="translate(914.9,110.7) scale(1.12,1)" font-size="12" font-weight="bold" fill="#444">b</text>
<text transform="translate(923.5,110.7) scale(1.28,1)" font-size="8.4" font-weight="bold" fill="#444">5</text>
<path d="M959.1,64 L952.5,70 L952.5,91.7" fill="none" stroke="#000" stroke-width="1.1" stroke-linejoin="miter"/>
<text x="959.0" y="59.7" font-size="12" font-weight="bold" fill="#8a8a8a" stroke="#8a8a8a" stroke-width="0.2">y</text>
<text transform="translate(967.1,59.9) scale(1.1,1)" font-size="8.5" fill="#9a9a9a">13</text>
<path d="M989.1,64 L982.5,70 L982.5,92.5 L976.0,98.7" fill="none" stroke="#000" stroke-width="1.1" stroke-linejoin="miter"/>
<text x="989.0" y="59.7" font-size="12" font-weight="bold" fill="#8a8a8a" stroke="#8a8a8a" stroke-width="0.2">y</text>
<text transform="translate(997.1,59.9) scale(1.1,1)" font-size="8.5" fill="#9a9a9a">12</text>
<text transform="translate(974.9,110.7) scale(1.12,1)" font-size="12" font-weight="bold" fill="#444">b</text>
<text transform="translate(983.5,110.7) scale(1.28,1)" font-size="8.4" font-weight="bold" fill="#444">7</text>
<path d="M1019.1,64 L1012.5,70 L1012.5,92.5 L1006.0,98.7" fill="none" stroke="#000" stroke-width="1.1" stroke-linejoin="miter"/>
<text x="1019.0" y="59.7" font-size="12" font-weight="bold" fill="#8a8a8a" stroke="#8a8a8a" stroke-width="0.2">y</text>
<text transform="translate(1027.1,59.9) scale(1.1,1)" font-size="8.5" fill="#9a9a9a">11</text>
<text transform="translate(1004.9,110.7) scale(1.12,1)" font-size="12" font-weight="bold" fill="#444">b</text>
<text transform="translate(1013.5,110.7) scale(1.28,1)" font-size="8.4" font-weight="bold" fill="#444">8</text>
<path d="M1049.1,64 L1042.5,70 L1042.5,91.7" fill="none" stroke="#000" stroke-width="1.1" stroke-linejoin="miter"/>
<text x="1049.0" y="59.7" font-size="12" font-weight="bold" fill="#8a8a8a" stroke="#8a8a8a" stroke-width="0.2">y</text>
<text transform="translate(1057.1,59.9) scale(1.1,1)" font-size="8.5" fill="#9a9a9a">10</text>
<path d="M1079.1,64 L1072.5,70 L1072.5,91.7" fill="none" stroke="#000" stroke-width="1.1" stroke-linejoin="miter"/>
<text x="1079.0" y="59.7" font-size="12" font-weight="bold" fill="#8a8a8a" stroke="#8a8a8a" stroke-width="0.2">y</text>
<text transform="translate(1086.1,59.9) scale(1.25,1)" font-size="9.4" fill="#909090">9</text>
<path d="M1109.1,64 L1102.5,70 L1102.5,91.7" fill="none" stroke="#000" stroke-width="1.1" stroke-linejoin="miter"/>
<text x="1109.0" y="59.7" font-size="12" font-weight="bold" fill="#8a8a8a" stroke="#8a8a8a" stroke-width="0.2">y</text>
<text transform="translate(1116.1,59.9) scale(1.25,1)" font-size="9.4" fill="#909090">8</text>
<path d="M1139.1,64 L1132.5,70 L1132.5,92.5 L1126.0,98.7" fill="none" stroke="#000" stroke-width="1.1" stroke-linejoin="miter"/>
<text x="1139.0" y="59.7" font-size="12" font-weight="bold" fill="#8a8a8a" stroke="#8a8a8a" stroke-width="0.2">y</text>
<text transform="translate(1146.1,59.9) scale(1.25,1)" font-size="9.4" fill="#909090">7</text>
<text transform="translate(1124.9,110.7) scale(1.12,1)" font-size="12" font-weight="bold" fill="#444">b</text>
<text transform="translate(1133.5,110.7) scale(1.16,1)" font-size="8.4" font-weight="bold" fill="#444">12</text>
<path d="M1169.1,64 L1162.5,70 L1162.5,92.5 L1156.0,98.7" fill="none" stroke="#000" stroke-width="1.1" stroke-linejoin="miter"/>
<text x="1169.0" y="59.7" font-size="12" font-weight="bold" fill="#8a8a8a" stroke="#8a8a8a" stroke-width="0.2">y</text>
<text transform="translate(1176.1,59.9) scale(1.25,1)" font-size="9.4" fill="#909090">6</text>
<text transform="translate(1154.9,110.7) scale(1.12,1)" font-size="12" font-weight="bold" fill="#444">b</text>
<text transform="translate(1163.5,110.7) scale(1.16,1)" font-size="8.4" font-weight="bold" fill="#444">13</text>
<path d="M1199.1,64 L1192.5,70 L1192.5,91.7" fill="none" stroke="#000" stroke-width="1.1" stroke-linejoin="miter"/>
<text x="1199.0" y="59.7" font-size="12" font-weight="bold" fill="#8a8a8a" stroke="#8a8a8a" stroke-width="0.2">y</text>
<text transform="translate(1206.1,59.9) scale(1.25,1)" font-size="9.4" fill="#909090">5</text>
<path d="M1229.1,64 L1222.5,70 L1222.5,91.7" fill="none" stroke="#000" stroke-width="1.1" stroke-linejoin="miter"/>
<text x="1229.0" y="59.7" font-size="12" font-weight="bold" fill="#8a8a8a" stroke="#8a8a8a" stroke-width="0.2">y</text>
<text transform="translate(1236.1,59.9) scale(1.25,1)" font-size="9.4" fill="#909090">4</text>
<path d="M1259.1,64 L1252.5,70 L1252.5,92.5 L1246.0,98.7" fill="none" stroke="#000" stroke-width="1.1" stroke-linejoin="miter"/>
<text x="1259.0" y="59.7" font-size="12" font-weight="bold" fill="#8a8a8a" stroke="#8a8a8a" stroke-width="0.2">y</text>
<text transform="translate(1266.1,59.9) scale(1.25,1)" font-size="9.4" fill="#909090">3</text>
<text transform="translate(1244.9,110.7) scale(1.12,1)" font-size="12" font-weight="bold" fill="#444">b</text>
<text transform="translate(1253.5,110.7) scale(1.16,1)" font-size="8.4" font-weight="bold" fill="#444">16</text>
<path d="M1289.1,64 L1282.5,70 L1282.5,92.5 L1276.0,98.7" fill="none" stroke="#000" stroke-width="1.1" stroke-linejoin="miter"/>
<text x="1289.0" y="59.7" font-size="12" font-weight="bold" fill="#8a8a8a" stroke="#8a8a8a" stroke-width="0.2">y</text>
<text transform="translate(1296.1,59.9) scale(1.25,1)" font-size="9.4" fill="#909090">2</text>
<text transform="translate(1274.9,110.7) scale(1.12,1)" font-size="12" font-weight="bold" fill="#444">b</text>
<text transform="translate(1283.5,110.7) scale(1.16,1)" font-size="8.4" font-weight="bold" fill="#444">17</text>
<path d="M1319.1,64 L1312.5,70 L1312.5,91.7" fill="none" stroke="#000" stroke-width="1.1" stroke-linejoin="miter"/>
<text x="1319.0" y="59.7" font-size="12" font-weight="bold" fill="#8a8a8a" stroke="#8a8a8a" stroke-width="0.2">y</text>
<text transform="translate(1326.1,59.9) scale(1.25,1)" font-size="9.4" fill="#909090">1</text>
</svg></body></html>
